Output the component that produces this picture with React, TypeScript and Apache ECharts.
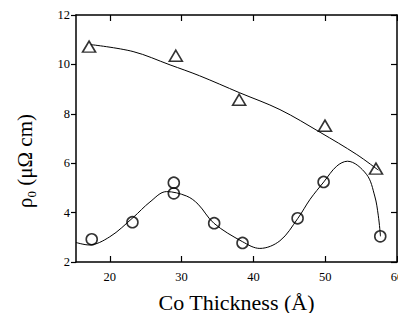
import React, { useEffect, useRef } from "react";
import * as echarts from "echarts";

const triX = [17.12, 29.2, 38.02, 49.97, 57.07];
const triY = [10.72, 10.35, 8.57, 7.52, 5.78];

const circX = [17.49, 23.16, 28.92, 28.92, 34.54, 38.49, 46.16, 49.78, 57.67];
const circY = [2.92, 3.61, 5.21, 4.78, 3.57, 2.77, 3.77, 5.24, 3.04];

const triFitX = [17.4, 23.25, 28.4, 32.5, 38.1, 43.7, 49.3, 54.4, 57.4];
const triFitY = [10.8, 10.52, 9.98, 9.54, 8.85, 8.17, 7.25, 6.35, 5.72];

const circFitX = [15.3, 17.1, 20.0, 23.25, 25.6, 27.9, 30.7, 32.3, 34.5, 38.5, 40.9, 43.7, 46.2, 47.9, 49.8, 51.6, 53.1, 55.75, 56.9, 57.4, 57.7];
const circFitY = [2.79, 2.69, 3.02, 3.8, 4.43, 4.85, 4.67, 4.34, 3.57, 2.82, 2.55, 2.86, 3.77, 4.54, 5.24, 5.88, 6.08, 5.55, 4.67, 3.87, 3.04];

const xTicks = [20, 30, 40, 50, 60];

const FONT = "Liberation Serif";

const zip = (xs: number[], ys: number[]) => xs.map((x, i) => [x, ys[i]]);

export default function App() {
  const ref = useRef<HTMLDivElement>(null);
  useEffect(() => {
    document.body.style.margin = "0";
    const chart = echarts.init(ref.current!, null, { renderer: "svg" });
    const axisLine = { show: true, lineStyle: { color: "#000", width: 1.5 } };
    chart.setOption({
      animation: false,
      backgroundColor: "#fff",
      textStyle: { fontFamily: FONT, color: "#000" },
      grid: { left: 76, top: 15, right: 1, bottom: 51, containLabel: false, outerBoundsMode: "none" },
      xAxis: [
        {
          type: "value",
          min: 15.3,
          max: 60,
          position: "bottom",
          axisLine,
          axisTick: { show: true, inside: true, length: 6, customValues: xTicks, lineStyle: { color: "#000", width: 1.2 } },
          axisLabel: { show: true, customValues: xTicks, color: "#000", fontFamily: FONT, fontSize: 12.5, margin: 8, hideOverlap: false },
          splitLine: { show: false },
          name: "Co Thickness (Å)",
          nameLocation: "middle",
          nameGap: 29,
          nameTextStyle: { color: "#000", fontFamily: FONT, fontSize: 22 },
        },
        {
          type: "value",
          min: 15.3,
          max: 60,
          position: "top",
          axisLine,
          axisTick: { show: true, inside: true, length: 6, customValues: xTicks, lineStyle: { color: "#000", width: 1.2 } },
          axisLabel: { show: false },
          splitLine: { show: false },
        },
      ],
      yAxis: [
        {
          type: "value",
          min: 2,
          max: 12,
          interval: 2,
          position: "left",
          axisLine,
          axisTick: { show: true, inside: false, length: 5, lineStyle: { color: "#000", width: 1.2 } },
          axisLabel: { show: true, color: "#000", fontFamily: FONT, fontSize: 12.5, margin: 6 },
          splitLine: { show: false },
        },
        {
          type: "value",
          min: 2,
          max: 12,
          interval: 2,
          position: "right",
          axisLine,
          axisTick: { show: true, inside: true, length: 6, lineStyle: { color: "#000", width: 1.2 } },
          axisLabel: { show: false },
          splitLine: { show: false },
        },
      ],
      graphic: [
        {
          type: "text",
          x: 25,
          y: 161,
          rotation: Math.PI / 2,
          style: {
            text: "{a|ρ}{b|0}{a| (μΩ cm)}",
            align: "center",
            verticalAlign: "middle",
            fill: "#000",
            rich: {
              a: { fontFamily: FONT, fontSize: 21, fill: "#000" },
              b: { fontFamily: FONT, fontSize: 13, fill: "#000", padding: [12, 0, 0, 0] },
            },
          },
        },
      ],
      series: [
        {
          type: "line",
          data: zip(triFitX, triFitY),
          smooth: 0.35,
          showSymbol: false,
          symbol: "none",
          lineStyle: { color: "#000", width: 1 },
          z: 1,
        },
        {
          type: "line",
          data: zip(circFitX, circFitY),
          smooth: 0.35,
          showSymbol: false,
          symbol: "none",
          lineStyle: { color: "#000", width: 1 },
          z: 1,
        },
        {
          type: "scatter",
          data: zip(triX, triY),
          symbol: "triangle",
          symbolSize: [13, 11],
          itemStyle: { color: "rgba(0,0,0,0)", borderColor: "#000", borderWidth: 1.6 },
          z: 3,
        },
        {
          type: "scatter",
          data: zip(circX, circY),
          symbol: "circle",
          symbolSize: 11,
          itemStyle: { color: "rgba(0,0,0,0)", borderColor: "#000", borderWidth: 1.6 },
          z: 3,
        },
      ],
    });
    return () => chart.dispose();
  }, []);
  return <div ref={ref} style={{ width: 398, height: 313 }} />;
}
